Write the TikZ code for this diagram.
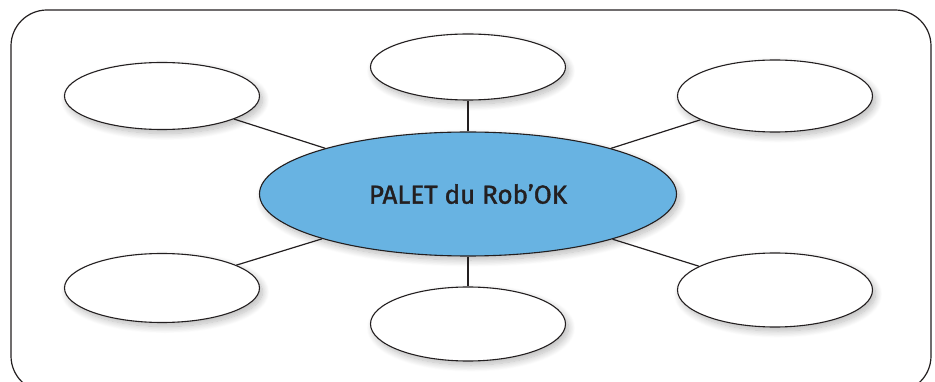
\documentclass[tikz,border=0pt]{standalone}
\usepackage{fontspec}
\newfontfamily\paletfont{Fira Sans}[FakeBold=1.4]
\usetikzlibrary{shapes.geometric}
\usetikzlibrary{shadows.blur}
\definecolor{paletblue}{RGB}{104,179,226}
\definecolor{encre}{RGB}{35,31,32}

\begin{document}
\begin{tikzpicture} [x=1pt, y=-1pt,
  bulle/.style={ellipse, draw=encre, line width=1.1pt, fill=white, inner sep=0pt, minimum width=195pt, minimum height=68pt,
    blur shadow={shadow xshift=3pt, shadow yshift=-4pt, shadow blur radius=7pt, shadow blur steps=12, shadow opacity=28}},
  lien/.style={draw=encre, line width=1.2pt}]
\useasboundingbox (0,0) rectangle (935,382);
\draw[encre, line width=1.2pt, rounded corners=36pt] (11,10) rectangle (931,392);

\node[bulle, fill=paletblue, minimum width=417pt, minimum height=124pt, text=encre, font=\paletfont\fontsize{26}{30}\selectfont] (palet) at (468,194) {PALET du Rob’OK};

\foreach \nom/\px/\py/\h/\w in {hg/162/96/67/1.2, hd/775/96/72/1.2, bg/162/288/69/1.2, bd/775/290/74/1.2, haut/468/67/66/2.4, bas/468/324/74/2.4} {
  \node[bulle, minimum height=\h pt] (\nom) at (\px,\py) {};
  \draw[lien, line width=\w pt] (palet) -- (\nom);
}

\end{tikzpicture}
\end{document}
